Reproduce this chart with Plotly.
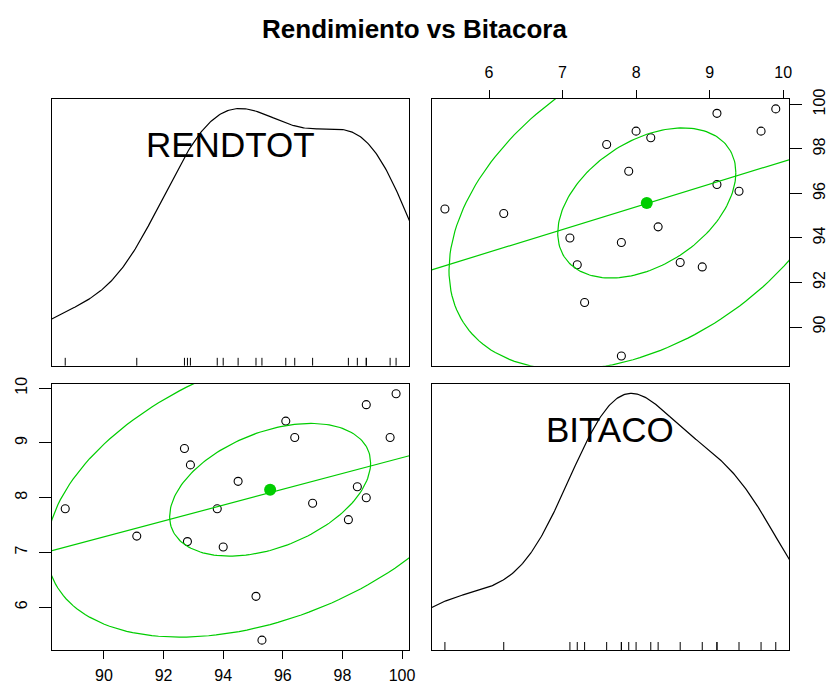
import numpy as np
import plotly.graph_objects as go

# ---- data ----
RENDTOT = [88.7, 91.1, 92.7, 92.9, 92.8, 93.8, 94.0, 94.5, 95.1, 95.3,
           96.1, 96.4, 97.0, 98.2, 98.5, 98.8, 98.8, 99.6, 99.8]
BITACO = [7.8, 7.3, 8.9, 8.6, 7.2, 7.8, 7.1, 8.3, 6.2, 5.4,
          9.4, 9.1, 7.9, 7.6, 8.2, 9.7, 8.0, 9.1, 9.9]
names = ["RENDTOT", "BITACO"]
title = "Rendimiento vs Bitacora"
rend_ticks = [90, 92, 94, 96, 98, 100]
bit_ticks = [6, 7, 8, 9, 10]
ellipse_levels = [0.5, 0.95]

GREEN = "#00CD00"
FONT = "Liberation Sans, Arial, sans-serif"

x1 = np.array(RENDTOT, float)
x2 = np.array(BITACO, float)
n = len(x1)


def ext_range(v):
    lo, hi = v.min(), v.max()
    d = (hi - lo) * 0.04
    return [lo - d, hi + d]


r_rng = ext_range(x1)
b_rng = ext_range(x2)


def density_curve(v):
    sd = v.std(ddof=1)
    iqr = np.subtract(*np.percentile(v, [75, 25]))
    bw = 0.9 * min(sd, iqr / 1.34) * n ** (-0.2)
    gx = np.linspace(v.min() - 3 * bw, v.max() + 3 * bw, 512)
    dens = np.exp(-0.5 * ((gx[:, None] - v[None, :]) / bw) ** 2).sum(1) / (n * bw * np.sqrt(2 * np.pi))
    gy = v.min() + dens * (v.max() - v.min()) / (dens.max() - dens.min())
    return gx, gy


def rug(v, rng):
    xs, ys = [], []
    h = 0.03 * (rng[1] - rng[0])
    for t in v:
        xs += [t, t, None]
        ys += [rng[0], rng[0] + h, None]
    return xs, ys


def cov_trob(X, nu=5, maxit=25, tol=0.01):
    # multivariate-t robust location/scatter (as MASS::cov.trob)
    nn, p = X.shape
    wt = np.ones(nn)
    loc = X.mean(0)
    w = np.sqrt(wt)
    Xc = X - loc
    for _ in range(maxit):
        w0 = w
        Xc = X - loc
        A = np.sqrt(w / w.sum())[:, None] * Xc
        _, d, vt = np.linalg.svd(A, full_matrices=False)
        wX = Xc @ vt.T @ np.diag(1 / d)
        Q = (wX ** 2).sum(1)
        w = (wt * (nu + p)) / (nu + Q)
        loc = (w[:, None] * X).sum(0) / w.sum()
        if np.all(np.abs(w - w0) < tol):
            break
    S = (np.sqrt(w)[:, None] * Xc).T @ (np.sqrt(w)[:, None] * Xc) / wt.sum()
    return loc, S


def ellipse(xv, yv, level):
    c, S = cov_trob(np.column_stack([xv, yv]))
    d = n - 1
    fq = d / 2 * ((1 - level) ** (-2 / d) - 1)  # qf(level, 2, n-1)
    rad = np.sqrt(2 * fq)
    ang = np.linspace(0, 2 * np.pi, 181)
    uc = np.column_stack([np.cos(ang), np.sin(ang)])
    R = np.linalg.cholesky(S).T
    e = c + rad * uc @ R
    return e[:, 0], e[:, 1], c


fig = go.Figure()


def scatter_panel(xv, yv, xrng, xa, ya):
    fig.add_trace(go.Scatter(x=xv, y=yv, mode="markers", xaxis=xa, yaxis=ya,
                             marker=dict(symbol="circle-open", size=8, color="black",
                                         line=dict(width=1.1, color="black"))))
    for lv in ellipse_levels:
        ex, ey, c = ellipse(xv, yv, lv)
        fig.add_trace(go.Scatter(x=ex, y=ey, mode="lines", xaxis=xa, yaxis=ya,
                                 line=dict(color=GREEN, width=1.2)))
    b, a = np.polyfit(xv, yv, 1)
    lx = np.array(xrng)
    fig.add_trace(go.Scatter(x=lx, y=a + b * lx, mode="lines", xaxis=xa, yaxis=ya,
                             line=dict(color=GREEN, width=1.2)))
    fig.add_trace(go.Scatter(x=[c[0]], y=[c[1]], mode="markers", xaxis=xa, yaxis=ya,
                             marker=dict(symbol="circle", size=12, color=GREEN)))


def diag_panel(v, rng, xa, ya):
    gx, gy = density_curve(v)
    fig.add_trace(go.Scatter(x=gx, y=gy, mode="lines", xaxis=xa, yaxis=ya,
                             line=dict(color="black", width=1.2)))
    rx, ry = rug(v, rng)
    fig.add_trace(go.Scatter(x=rx, y=ry, mode="lines", xaxis=xa, yaxis=ya,
                             line=dict(color="black", width=1)))


# bottom-left: x=RENDTOT, y=BITACO
scatter_panel(x1, x2, r_rng, "x", "y")
# top-right: x=BITACO, y=RENDTOT
scatter_panel(x2, x1, b_rng, "x2", "y2")
# diagonals
diag_panel(x1, r_rng, "x3", "y3")
diag_panel(x2, b_rng, "x4", "y4")

W, H = 829, 684
fx = [51.7, 409.3, 431.7, 789.3]
fy = [99.3, 366, 384, 650]
L, R_, T, B = fx[0], W - fx[3], fy[0], H - fy[3]
pw, ph = W - L - R_, H - T - B
xd1 = [0, (fx[1] - L) / pw]
xd2 = [(fx[2] - L) / pw, 1]
yd_top = [(H - B - fy[1]) / ph, 1]
yd_bot = [0, (H - B - fy[2]) / ph]

tickfont = dict(family=FONT, size=16, color="black")
base = dict(showline=True, linecolor="black", linewidth=1, mirror=True,
            showgrid=False, zeroline=False, automargin=False, tickfont=tickfont,
            tickcolor="black", tickwidth=1)

fig.update_layout(
    width=W, height=H, template="none", showlegend=False,
    paper_bgcolor="white", plot_bgcolor="white",
    margin=dict(l=L, r=R_, t=T, b=B, pad=0),
    font=dict(family=FONT, color="black"),
    title=dict(text="<b>" + title + "</b>", x=0.5, xref="container", xanchor="center",
               y=1 - 29 / H, yref="container", yanchor="middle",
               font=dict(family=FONT, size=26, color="black")),
    xaxis=dict(base, domain=xd1, range=r_rng, anchor="y", tickvals=rend_ticks,
               ticks="outside", ticklen=8, ticklabelstandoff=3),
    yaxis=dict(base, domain=yd_bot, range=b_rng, anchor="x", tickvals=bit_ticks,
               ticks="outside", ticklen=12, tickangle=-90, ticklabelstandoff=6),
    xaxis2=dict(base, domain=xd2, range=b_rng, anchor="y2", side="top", tickvals=bit_ticks,
                ticks="outside", ticklen=8, ticklabelstandoff=6),
    yaxis2=dict(base, domain=yd_top, range=r_rng, anchor="x2", side="right", tickvals=rend_ticks,
                ticks="outside", ticklen=12, tickangle=-90, ticklabelstandoff=4),
    xaxis3=dict(base, domain=xd1, range=r_rng, anchor="y3", showticklabels=False, ticks=""),
    yaxis3=dict(base, domain=yd_top, range=r_rng, anchor="x3", showticklabels=False, ticks=""),
    xaxis4=dict(base, domain=xd2, range=b_rng, anchor="y4", showticklabels=False, ticks=""),
    yaxis4=dict(base, domain=yd_bot, range=b_rng, anchor="x4", showticklabels=False, ticks=""),
)

for nm, xa, ya in [(names[0], "x3", "y3"), (names[1], "x4", "y4")]:
    fig.add_annotation(text=nm, x=0.5, y=1 - 0.171, xref=xa + " domain", yref=ya + " domain",
                       xanchor="center", yanchor="middle", showarrow=False,
                       font=dict(family=FONT, size=35, color="black"))

# the page body's default 8px margin would shift the figure; remove it
fig.write_html("out.html", config={"displayModeBar": False},
               post_script="document.body.style.margin='0';document.body.style.overflow='hidden';")
